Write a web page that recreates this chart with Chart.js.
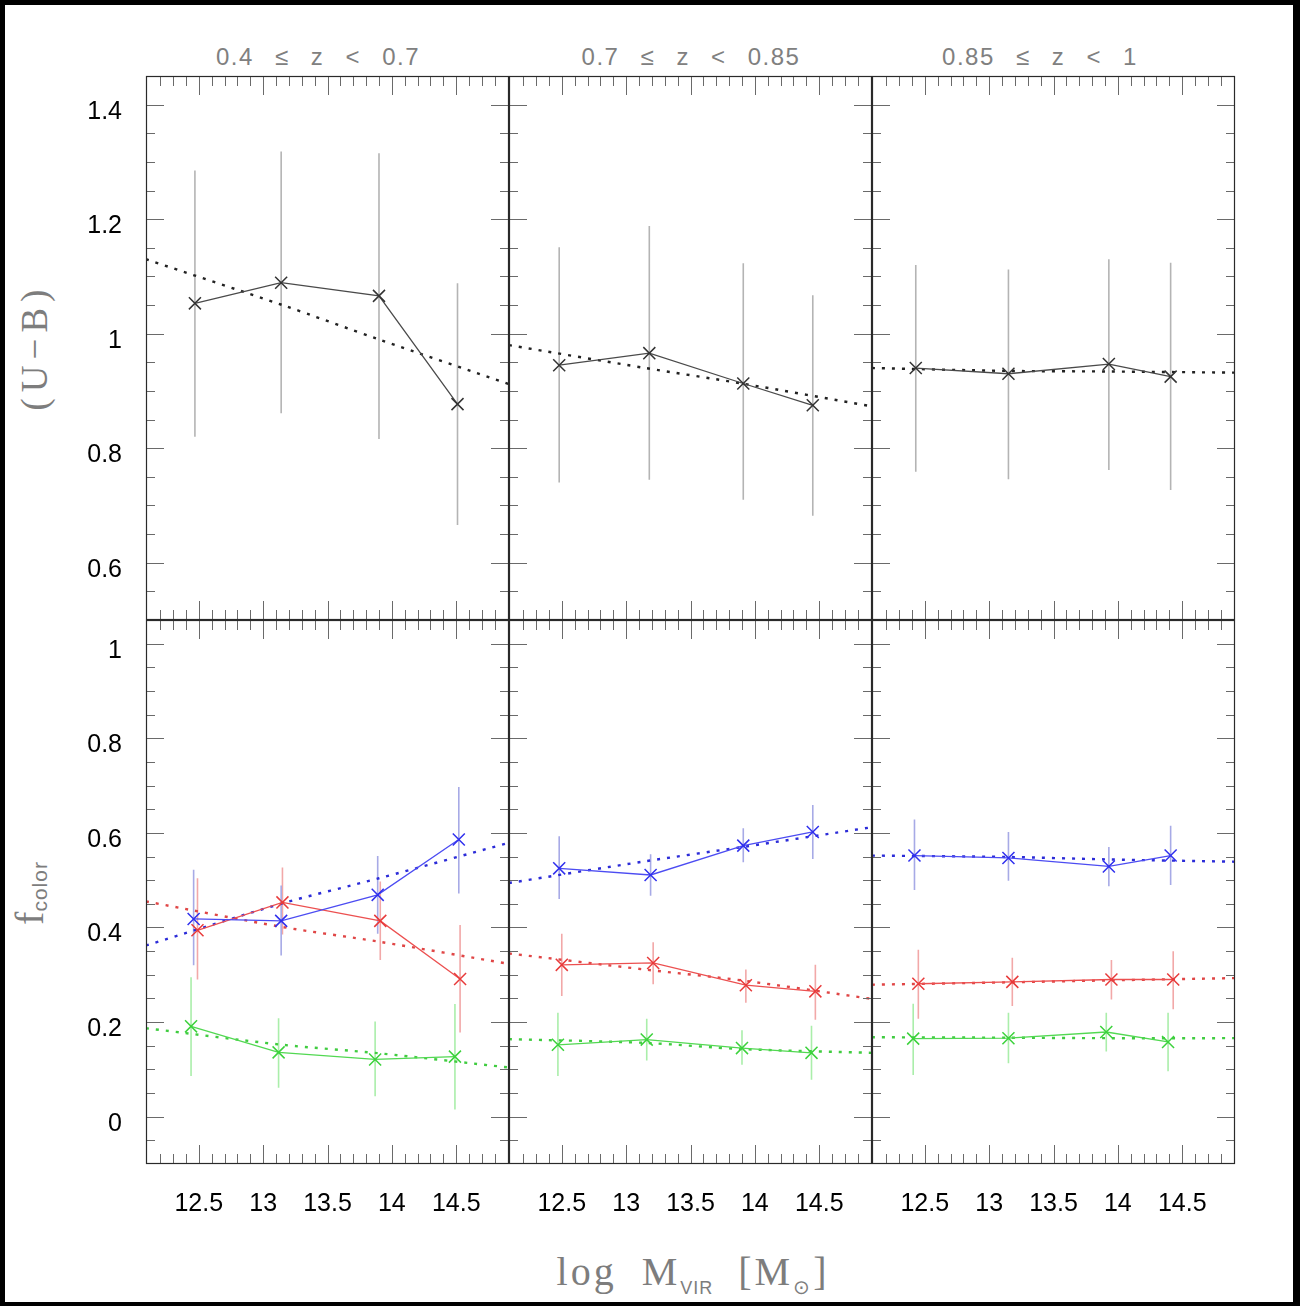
<!DOCTYPE html>
<html lang="en">
<head>
<meta charset="UTF-8">
<title>(U−B) and colour fractions vs halo mass</title>
<script src="https://cdn.jsdelivr.net/npm/chart.js"></script>
<style>
    body {
        margin: 0;
        width: 1300px;
        height: 1306px;
        background: #000;
        position: relative;
        overflow: hidden;
        font-family: "Liberation Sans", Arial, sans-serif;
    }
    #sheet {
        position: absolute;
        left: 5px;
        top: 5px;
        width: 1288px;
        height: 1297px;
        background: #fff;
    }
    canvas { position: absolute; }
    .zbin {
        position: absolute;
        top: 43px;
        width: 300px;
        margin-left: -150px;
        text-align: center;
        color: #808080;
        font-size: 24px;
        line-height: 28px;
        letter-spacing: 1.5px;
        word-spacing: 13px;
        white-space: nowrap;
    }
    .ttl {
        position: absolute;
        color: #7d7d7d;
        font-family: "Liberation Serif", "Times New Roman", serif;
        text-align: center;
        white-space: nowrap;
    }
    .ttl sub { font-family: "Liberation Sans", Arial, sans-serif; }
</style>
</head>
<body>
<div id="sheet"></div>

<div class="zbin" style="left:318px">0.4 ≤ z &lt; 0.7</div>
<div class="zbin" style="left:691px">0.7 ≤ z &lt; 0.85</div>
<div class="zbin" style="left:1040px">0.85 ≤ z &lt; 1</div>

<div class="ttl" style="left:-65px; top:327px; width:200px; height:40px; line-height:40px; font-size:37px; letter-spacing:6px; transform:rotate(-90deg);">(U−B)</div>
<div class="ttl" style="left:-70px; top:873px; width:200px; height:40px; line-height:40px; transform:rotate(-90deg);"><span style="font-size:40px">f</span><sub style="font-size:21px; letter-spacing:1px">color</sub></div>
<div class="ttl" style="left:493px; top:1248px; width:400px; height:48px; line-height:48px; font-size:40px; letter-spacing:3px; word-spacing:12px;">log M<sub style="font-size:18px; letter-spacing:1px">VIR</sub> [M<sub style="font-size:20px">⊙</sub>]</div>

<script>
    // x axis: log virial mass
    const massMin = 12.09;
    const massMax = 14.91;
    const massTicks = [12.5, 13, 13.5, 14, 14.5];
    const massLabels = ["12.5", "13", "13.5", "14", "14.5"];

    // y axes
    const ubMin = 0.5, ubMax = 1.45;
    const ubTicks = [0.6, 0.8, 1, 1.2, 1.4];
    const ubLabels = ["0.6", "0.8", "1", "1.2", "1.4"];
    const fracMin = -0.1, fracMax = 1.05;
    const fracTicks = [0, 0.2, 0.4, 0.6, 0.8, 1];
    const fracLabels = ["0", "0.2", "0.4", "0.6", "0.8", "1"];

    // one entry per redshift bin
    const zBins = ["0.4 ≤ z < 0.7", "0.7 ≤ z < 0.85", "0.85 ≤ z < 1"];

    // mean (U-B) colour
    const ubMass   = [[12.47, 13.14, 13.90, 14.51], [12.48, 13.18, 13.91, 14.45], [12.43, 13.15, 13.93, 14.41]];
    const ubColour = [[1.053, 1.089, 1.066, 0.877], [0.945, 0.966, 0.913, 0.875], [0.940, 0.930, 0.947, 0.925]];
    const ubLow    = [[0.820, 0.861, 0.816, 0.666], [0.740, 0.745, 0.710, 0.682], [0.759, 0.746, 0.762, 0.727]];
    const ubHigh   = [[1.285, 1.318, 1.315, 1.088], [1.151, 1.188, 1.123, 1.067], [1.120, 1.112, 1.130, 1.124]];

    // fitted trends, sampled on a common mass grid
    const fitMass = [12.09, 13.15, 13.9, 14.91];
    const ubFit   = [[1.130, 1.050, 0.990, 0.912], [0.980, 0.940, 0.913, 0.873], [0.940, 0.935, 0.934, 0.932]];

    // blue fraction
    const blueMass = [[12.46, 13.14, 13.89, 14.52], [12.48, 13.19, 13.91, 14.45], [12.42, 13.15, 13.93, 14.41]];
    const blueFrac = [[0.418, 0.414, 0.469, 0.586], [0.525, 0.511, 0.573, 0.602], [0.552, 0.547, 0.529, 0.552]];
    const blueLow  = [[0.320, 0.341, 0.387, 0.472], [0.460, 0.467, 0.538, 0.545], [0.479, 0.499, 0.487, 0.490]];
    const blueHigh = [[0.522, 0.489, 0.551, 0.697], [0.593, 0.555, 0.610, 0.659], [0.628, 0.602, 0.570, 0.615]];
    const blueFit  = [[0.362, 0.451, 0.504, 0.579], [0.494, 0.540, 0.570, 0.612], [0.552, 0.549, 0.544, 0.539]];

    // red fraction
    const redMass = [[12.49, 13.15, 13.91, 14.53], [12.50, 13.21, 13.93, 14.47], [12.45, 13.18, 13.95, 14.43]];
    const redFrac = [[0.394, 0.453, 0.414, 0.291], [0.321, 0.325, 0.278, 0.265], [0.281, 0.285, 0.290, 0.290]];
    const redLow  = [[0.290, 0.385, 0.331, 0.178], [0.255, 0.280, 0.241, 0.205], [0.207, 0.234, 0.248, 0.227]];
    const redHigh = [[0.504, 0.527, 0.497, 0.405], [0.387, 0.369, 0.311, 0.321], [0.353, 0.336, 0.331, 0.350]];
    const redFit  = [[0.455, 0.401, 0.370, 0.323], [0.345, 0.311, 0.288, 0.249], [0.279, 0.284, 0.288, 0.293]];

    // green-valley fraction
    const greenMass = [[12.44, 13.12, 13.87, 14.49], [12.47, 13.16, 13.90, 14.44], [12.41, 13.15, 13.91, 14.39]];
    const greenFrac = [[0.191, 0.136, 0.121, 0.127], [0.152, 0.163, 0.145, 0.135], [0.165, 0.166, 0.179, 0.158]];
    const greenLow  = [[0.086, 0.061, 0.043, 0.015], [0.086, 0.119, 0.110, 0.078], [0.088, 0.113, 0.138, 0.096]];
    const greenHigh = [[0.295, 0.208, 0.201, 0.238], [0.220, 0.207, 0.183, 0.192], [0.239, 0.220, 0.220, 0.220]];
    const greenFit  = [[0.187, 0.152, 0.134, 0.104], [0.164, 0.156, 0.143, 0.135], [0.168, 0.167, 0.166, 0.166]];

    // panel geometry on the page
    const plotLeft = 146, plotTop = 76, panelW = 363, panelH = 544;
    const axisW = 146, axisH = 60, padTop = 10, padRight = 10;

    Chart.defaults.font.family = '"Liberation Sans", Arial, sans-serif';

    function xy(xs, ys) {
        return xs.map((x, i) => ({ x: x, y: ys[i] }));
    }

    // vertical error bars as one broken line (null breaks the path)
    function errorBars(xs, lo, hi) {
        const pts = [];
        xs.forEach((x, i) => {
            pts.push({ x: x, y: lo[i] }, { x: x, y: hi[i] }, { x: x, y: null });
        });
        return pts;
    }

    // box around each panel with inward major/minor ticks on all four sides
    const frameTicks = {
        id: "frameTicks",
        afterDraw(chart) {
            const { ctx, chartArea: a } = chart;
            const xs = chart.scales.x, ys = chart.scales.y;
            ctx.save();
            ctx.lineWidth = 1;
            ctx.strokeStyle = "#6a6a6a";
            ctx.beginPath();
            for (let i = Math.ceil(xs.min * 10); i <= Math.floor(xs.max * 10); i++) {
                const px = Math.round(xs.getPixelForValue(i / 10)) + 0.5;
                if (px < a.left + 2 || px > a.right - 2) continue;
                const len = i % 5 === 0 ? 19 : 10;
                ctx.moveTo(px, a.top); ctx.lineTo(px, a.top + len);
                ctx.moveTo(px, a.bottom); ctx.lineTo(px, a.bottom - len);
            }
            for (let i = Math.ceil(ys.min * 20 - 1e-6); i <= Math.floor(ys.max * 20 + 1e-6); i++) {
                const py = Math.round(ys.getPixelForValue(i / 20)) + 0.5;
                if (py < a.top + 2 || py > a.bottom - 2) continue;
                const len = i % 4 === 0 ? 18 : 9;
                ctx.moveTo(a.left, py); ctx.lineTo(a.left + len, py);
                ctx.moveTo(a.right, py); ctx.lineTo(a.right - len, py);
            }
            ctx.stroke();
            ctx.strokeStyle = "#2a2a2a";
            ctx.lineWidth = 1.2;
            ctx.strokeRect(a.left + 0.5, a.top + 0.5, a.right - a.left - 1, a.bottom - a.top - 1);
            ctx.restore();
        }
    };

    function seriesSets(mass, val, lo, hi, fit, line, mark, err, dots) {
        return [
            {
                data: xy(mass, val), borderColor: line, borderWidth: 1.3,
                pointStyle: "crossRot", pointRadius: 8.5, pointBorderColor: mark,
                pointBorderWidth: 1.5, order: 1
            },
            {
                data: xy(fitMass, fit), borderColor: dots, borderWidth: 2.4,
                borderDash: [3, 7], pointRadius: 0, tension: 0.3, order: 2
            },
            {
                data: errorBars(mass, lo, hi), borderColor: err, borderWidth: 1.6,
                pointRadius: 0, spanGaps: false, order: 3
            }
        ];
    }

    function makePanel(col, row) {
        const canvas = document.createElement("canvas");
        const w = axisW + panelW + padRight, h = padTop + panelH + axisH;
        canvas.width = w; canvas.height = h;
        canvas.style.width = w + "px"; canvas.style.height = h + "px";
        canvas.style.left = (plotLeft + col * panelW - axisW) + "px";
        canvas.style.top = (plotTop + row * panelH - padTop) + "px";
        document.body.appendChild(canvas);

        const top = row === 0;
        const datasets = top
            ? seriesSets(ubMass[col], ubColour[col], ubLow[col], ubHigh[col], ubFit[col],
                         "#4a4a4a", "#333333", "#b4b4b4", "#222222")
            : [].concat(
                seriesSets(blueMass[col], blueFrac[col], blueLow[col], blueHigh[col], blueFit[col],
                           "#4c4cf2", "#3030ee", "#a7aae6", "#2c2cd8"),
                seriesSets(redMass[col], redFrac[col], redLow[col], redHigh[col], redFit[col],
                           "#ec5050", "#e83a3a", "#f2a8a8", "#e04646"),
                seriesSets(greenMass[col], greenFrac[col], greenLow[col], greenHigh[col], greenFit[col],
                           "#52d852", "#3cd23c", "#aaeeaa", "#40cc40"));

        const yTicks = top ? ubTicks : fracTicks;
        const yLabels = top ? ubLabels : fracLabels;

        new Chart(canvas.getContext("2d"), {
            type: "line",
            data: { datasets: datasets },
            options: {
                responsive: false,
                animation: false,
                events: [],
                layout: { padding: { top: padTop, right: padRight, left: 0, bottom: 0 } },
                plugins: { legend: { display: false }, tooltip: { enabled: false } },
                scales: {
                    x: {
                        type: "linear", min: massMin, max: massMax,
                        grid: { display: false, drawTicks: false },
                        border: { display: false },
                        afterBuildTicks: s => { s.ticks = massTicks.map(v => ({ value: v })); },
                        ticks: {
                            display: !top, color: "#000", padding: 25,
                            font: { size: 25 }, maxRotation: 0, autoSkip: false,
                            callback: (v, i) => massLabels[i]
                        },
                        afterFit: s => { s.height = axisH; s.paddingLeft = 0; s.paddingRight = 0; }
                    },
                    y: {
                        type: "linear",
                        min: top ? ubMin : fracMin, max: top ? ubMax : fracMax,
                        grid: { display: false, drawTicks: false },
                        border: { display: false },
                        afterBuildTicks: s => { s.ticks = yTicks.map(v => ({ value: v })); },
                        ticks: {
                            display: col === 0, color: "#000", padding: 24, labelOffset: 7,
                            font: { size: 25 }, autoSkip: false,
                            callback: (v, i) => yLabels[i]
                        },
                        afterFit: s => { s.width = axisW; s.paddingTop = 0; s.paddingBottom = 0; }
                    }
                }
            },
            plugins: [frameTicks]
        });
    }

    for (let row = 0; row < 2; row++) {
        for (let col = 0; col < zBins.length; col++) makePanel(col, row);
    }
</script>
</body>
</html>
